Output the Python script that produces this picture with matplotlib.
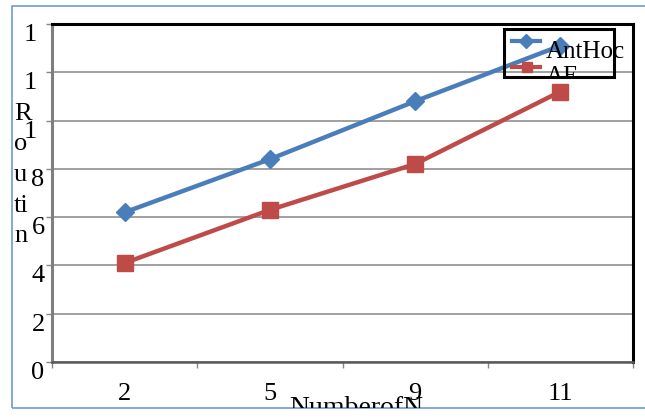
import matplotlib
matplotlib.use('Agg')
import matplotlib.pyplot as plt
from matplotlib.patches import Rectangle
from matplotlib.lines import Line2D

# number of nodes on the x axis, routing values for each protocol
nodes = ['2', '5', '9', '11']
anthoc = [6.2, 8.4, 10.8, 13.1]
ae = [4.1, 6.3, 8.2, 11.2]
y_ticks = [0, 2, 4, 6, 8, 10, 12, 14]
y_labels = ['0', '2', '4', '6', '8', '1', '1', '1']

BLUE = '#4a7ebb'
RED = '#be4b48'
GRID = '#868686'

plt.rcParams['font.family'] = 'Liberation Serif'

W, H = 645, 419
fig = plt.figure(figsize=(W / 100, H / 100), dpi=100)


def px(x, y):
    # pixel position (from top left) -> figure fraction
    return x / W, 1 - y / H


ax = fig.add_axes([52 / W, 1 - 362 / H, 581 / W, 338 / H])
xs = list(range(len(nodes)))
ax.plot(xs, anthoc, color=BLUE, lw=3.2, marker='D', ms=9, zorder=4)
ax.plot(xs, ae, color=RED, lw=3.2, marker='s', ms=11, zorder=4)

ax.set_xlim(-0.5, len(nodes) - 0.5)
ax.set_ylim(0, 14)
ax.set_yticks(y_ticks)
ax.set_yticklabels([])
ax.yaxis.grid(True, color=GRID, lw=1.1)
ax.set_axisbelow(True)
ax.tick_params(axis='y', length=4, width=1, color=GRID)

ax.set_xticks([i - 0.5 for i in range(len(nodes) + 1)])
ax.set_xticklabels([])
ax.set_xticks(xs, minor=True)
ax.set_xticklabels(nodes, minor=True, fontsize=19)
ax.tick_params(axis='x', which='major', length=4, width=1, color=GRID)
ax.tick_params(axis='x', which='minor', length=0, pad=15)

ax.spines['top'].set_color('black')
ax.spines['top'].set_linewidth(2.2)
ax.spines['right'].set_color('black')
ax.spines['right'].set_linewidth(2.2)
ax.spines['left'].set_color('#7f7f7f')
ax.spines['left'].set_linewidth(2.2)
ax.spines['bottom'].set_color('#5a5a5a')
ax.spines['bottom'].set_linewidth(1.8)

# y tick labels, only the first character shows
ytr = ax.get_yaxis_transform()
for v, lab in zip(y_ticks, y_labels):
    xpos = -0.038 if lab == '1' else -0.024
    ax.text(xpos, v, lab, transform=ytr, ha='center', va='top', fontsize=19,
            clip_on=False)

# stacked y axis title
fig.text(*px(14, 103), 'R\no\nu\nti\nn', ha='left', va='top', fontsize=19,
         linespacing=1.5)

# outer chart frame
frame = Rectangle(px(12, 408), 2, (408 - 6) / H, transform=fig.transFigure,
                  fill=False, edgecolor='#6f9ad6', lw=1.2)
fig.add_artist(frame)

# x axis title, cut off by the frame
xt = fig.text(*px(356, 396), 'NumberofN', ha='center', va='top', fontsize=20)
xt.set_clip_path(Rectangle(px(0, 408), 1, 408 / H, transform=fig.transFigure))

# legend
box = Rectangle(px(504, 77), 110 / W, 48 / H, transform=fig.transFigure,
                fill=False, edgecolor='black', lw=2.2, zorder=3)
fig.add_artist(box)
fig.add_artist(Line2D([512 / W, 540 / W], [1 - 41 / H] * 2, color=BLUE, lw=3,
                      transform=fig.transFigure))
fig.add_artist(Line2D([526 / W], [1 - 41 / H], color=BLUE, marker='D', ms=7,
                      transform=fig.transFigure))
fig.add_artist(Line2D([512 / W, 540 / W], [1 - 67 / H] * 2, color=RED, lw=3,
                      transform=fig.transFigure))
fig.add_artist(Line2D([527 / W], [1 - 67 / H], color=RED, marker='s', ms=7,
                      transform=fig.transFigure))
fig.text(*px(546, 58), 'AntHoc', ha='left', va='baseline', fontsize=18)
ae_txt = fig.text(*px(546, 83), 'AE', ha='left', va='baseline', fontsize=18)
ae_txt.set_clip_path(Rectangle(px(504, 77), 110 / W, 48 / H,
                               transform=fig.transFigure))

fig.savefig('out.png', dpi=100)
